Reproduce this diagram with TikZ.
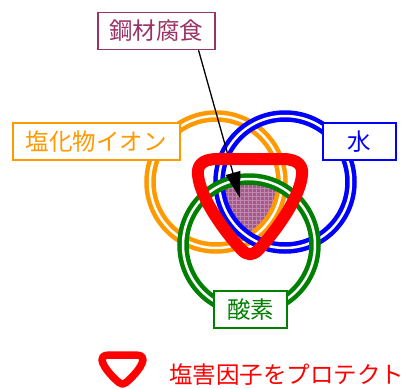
\documentclass[tikz,border=0pt]{standalone}
\usepackage{fontspec}
\setmainfont{Noto Sans CJK JP}
\usetikzlibrary{arrows.meta,calc}
\definecolor{cOrange}{RGB}{255,153,0}
\definecolor{cBlue}{RGB}{0,0,255}
\definecolor{cGreen}{RGB}{0,128,0}
\definecolor{cRed}{RGB}{255,0,0}
\definecolor{cPurple}{RGB}{153,51,102}
\definecolor{cFill}{RGB}{165,88,138}
\definecolor{cGrid}{RGB}{192,135,172}
\tikzset{
  ring/.style={double=white, line width=4.5pt, double distance=2.5pt},
  lbl/.style={draw, fill=white, line width=1.5pt, minimum height=37pt, inner sep=0pt,
    font=\fontsize{23.5}{24}\selectfont},
  shield/.pic={\draw[pic actions] (0,0) -- (0.62,0) .. controls (0.95,0) and (1.02,0.08) .. (1,0.17)
     .. controls (0.95,0.45) and (0.35,0.85) .. (0.17,0.95)
     .. controls (0.06,1.02) and (-0.06,1.02) .. (-0.17,0.95)
     .. controls (-0.35,0.85) and (-0.95,0.45) .. (-1,0.17)
     .. controls (-1.02,0.08) and (-0.95,0) .. (-0.62,0) -- cycle;},
  shieldline/.style={draw=cRed, line join=round}
}
\begin{document}
\begin{tikzpicture}[x=1pt,y=-1pt]
\useasboundingbox (0,0) rectangle (408,389);
\coordinate (cO) at (216,182);
\coordinate (cB) at (285,182);
\coordinate (cG) at (249,245);
% corrosion region
\begin{scope}
  \clip (cO) circle[radius=61pt];
  \clip (cB) circle[radius=61pt];
  \clip (cG) circle[radius=61pt];
  \fill[cFill] (150,150) rectangle (300,260);
  \draw[cGrid, line width=0.5pt, step=4pt] (150,150) grid (300,260);
\end{scope}
% rings
\draw[ring, draw=cOrange] (cO) circle[radius=66pt];
\draw[ring, draw=cBlue] (cB) circle[radius=66pt];
\draw[ring, draw=cGreen] (cG) circle[radius=66pt];
% labels
\node[lbl, draw=cPurple, text=cPurple, minimum width=117pt] (corr) at (156.5,31) {鋼材腐食};
\node[lbl, draw=cOrange, text=cOrange, minimum width=167pt] (chl) at (96.5,141.5) {塩化物イオン};
\node[lbl, draw=cBlue, text=cBlue, minimum width=73pt] (wat) at (359.5,141.5) {水};
\node[lbl, draw=cGreen, text=cGreen, minimum width=73pt] (oxy) at (250.5,309.5) {酸素};
% arrow
\coordinate (tip) at (240,198);
\draw[line width=1.3pt, -{Triangle[length=26pt,width=15pt]}]
  ($(corr.south west)!0.855!(corr.south east)$) -- (tip);
% protection shield
\pic[shieldline, line width=12pt, xscale=52, yscale=95] at (250,159) {shield};
% legend
\pic[shieldline, line width=7.5pt, xscale=20.5, yscale=29] at (122.5,355) {shield};
\node[text=cRed, anchor=west, inner sep=0pt, font=\fontsize{23.5}{24}\selectfont] (leg) at (169,375) {塩害因子をプロテクト};
\end{tikzpicture}
\end{document}
